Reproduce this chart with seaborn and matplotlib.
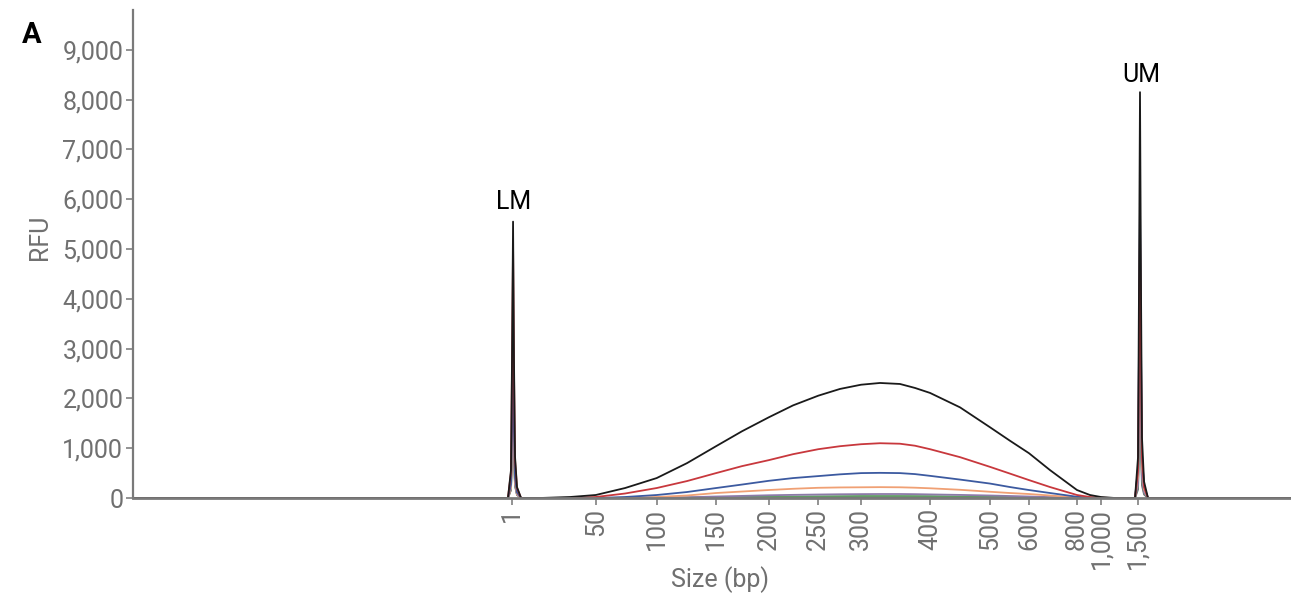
import numpy as np
import pandas as pd
import matplotlib
matplotlib.use("Agg")
import matplotlib.pyplot as plt
import seaborn as sns

# x axis is migration position (0-100); the ladder maps sizes onto it
ladder_sizes = [1, 50, 100, 150, 200, 250, 300, 400, 500, 600, 800, 1000, 1500]
ladder_pos = [32.73, 39.96, 45.22, 50.35, 54.90, 59.18, 62.87, 68.83, 74.01,
              77.37, 81.52, 83.59, 86.76]
ladder_labels = ["1", "50", "100", "150", "200", "250", "300", "400", "500",
                 "600", "800", "1,000", "1,500"]

# marker peaks (lower marker LM, upper marker UM)
lm_x = [32.38, 32.64, 32.73, 32.82, 32.90, 32.99, 33.16, 33.51]
um_x = [86.53, 86.79, 86.87, 86.96, 87.05, 87.13, 87.31, 87.65]

# library smear sampling positions
smear_x = [35.15, 37.74, 39.96, 42.49, 45.22, 47.84, 50.35, 52.59, 54.90, 57.00,
           59.18, 61.05, 62.87, 64.51, 66.23, 67.53, 68.83, 71.42, 74.01, 75.73,
           77.37, 79.19, 81.52, 82.64, 83.59, 84.80]

traces = ["gray", "green", "purple", "orange", "blue", "red", "black"]
colors = {"gray": "#6e6e6e", "green": "#5f9a63", "purple": "#8c7aa8",
          "orange": "#f0a074", "blue": "#3c5aa0", "red": "#c8383d",
          "black": "#1a1a1a"}

lm_rfu = {
    "black": [0, 560, 2780, 5550, 2780, 830, 220, 0],
    "red": [0, 510, 2550, 5100, 2550, 770, 200, 0],
    "blue": [0, 270, 1330, 2650, 1330, 400, 110, 0],
    "orange": [0, 200, 1000, 2000, 1000, 300, 80, 0],
    "purple": [0, 190, 930, 1850, 930, 280, 70, 0],
    "green": [0, 170, 850, 1700, 850, 260, 70, 0],
    "gray": [0, 160, 800, 1600, 800, 240, 60, 0],
}
um_rfu = {
    "black": [0, 820, 4080, 8150, 4080, 1220, 330, 0],
    "blue": [0, 600, 2980, 5950, 2980, 890, 240, 0],
    "red": [0, 550, 2750, 5500, 2750, 830, 220, 0],
    "orange": [0, 450, 2230, 4450, 2230, 670, 180, 0],
    "purple": [0, 270, 1350, 2700, 1350, 410, 110, 0],
    "green": [0, 250, 1250, 2500, 1250, 380, 100, 0],
    "gray": [0, 170, 830, 1650, 830, 250, 70, 0],
}
smear_rfu = {
    "black": [0, 20, 60, 200, 400, 700, 1040, 1340, 1620, 1860, 2055, 2190, 2275,
              2310, 2290, 2210, 2110, 1820, 1420, 1150, 900, 560, 160, 60, 20, 0],
    "red": [0, 0, 20, 90, 200, 340, 500, 640, 760, 880, 980, 1040, 1080, 1100,
            1090, 1050, 980, 820, 625, 490, 360, 220, 60, 20, 5, 0],
    "blue": [0, 0, 0, 20, 60, 120, 200, 270, 345, 400, 440, 475, 500, 505, 500,
             480, 445, 370, 290, 220, 160, 100, 25, 5, 0, 0],
    "orange": [0, 0, 0, 0, 20, 50, 100, 130, 160, 185, 205, 212, 215, 218, 215,
               207, 195, 165, 125, 100, 80, 50, 10, 0, 0, 0],
    "purple": [0, 0, 0, 0, 5, 15, 30, 42, 55, 63, 70, 75, 78, 80, 80, 77, 72, 62,
               50, 40, 30, 18, 5, 0, 0, 0],
    "green": [0, 0, 0, 0, 3, 8, 15, 20, 25, 30, 34, 37, 40, 40, 40, 39, 38, 30,
              25, 20, 15, 8, 2, 0, 0, 0],
    "gray": [0, 0, 0, 0, 1, 3, 5, 7, 9, 11, 13, 14, 15, 15, 15, 14, 13, 11, 9, 7,
             5, 3, 1, 0, 0, 0],
}

rows = []
for t in traces:
    xs = [0] + lm_x + smear_x + um_x + [100]
    ys = [0] + lm_rfu[t] + smear_rfu[t] + um_rfu[t] + [0]
    for x, y in zip(xs, ys):
        rows.append({"pos": x, "rfu": y, "trace": t})
df = pd.DataFrame(rows)

sns.set_theme(style="ticks")
plt.rcParams["font.family"] = ["Roboto", "DejaVu Sans"]

grey = "#707070"
fs = 18
fig = plt.figure(figsize=(12.91, 5.94), dpi=100)
ax = fig.add_axes([133 / 1291, 1 - 498 / 594, 1 - 133 / 1291, 488 / 594])

sns.lineplot(data=df, x="pos", y="rfu", hue="trace", hue_order=traces,
             palette=colors, sort=False, estimator=None, legend=False,
             linewidth=1.3, ax=ax, clip_on=False)

ax.set_xlim(0, 100)
ax.set_ylim(0, 9800)
ax.set_yticks(range(0, 9001, 1000))
ax.set_yticklabels([f"{v:,}" for v in range(0, 9001, 1000)])
ax.set_xticks(ladder_pos)
ax.set_xticklabels(ladder_labels, rotation=90)

for side in ["top", "right"]:
    ax.spines[side].set_visible(False)
for side in ["left", "bottom"]:
    ax.spines[side].set_color("#7a7a7a")
ax.spines["left"].set_linewidth(1.6)
ax.spines["bottom"].set_linewidth(2.0)
ax.tick_params(axis="both", colors="#808080", labelcolor=grey, labelsize=fs,
               length=5, width=1.2, pad=2)

ax.set_xlabel("Size (bp)", fontsize=fs, color=grey)
ax.xaxis.set_label_coords((720 - 133) / 1158, (498 - 580) / 488)
ax.xaxis.label.set_va("center")
ax.set_ylabel("RFU", fontsize=fs, color=grey)
ax.yaxis.set_label_coords((40 - 133) / 1158, (498 - 237) / 488)
ax.yaxis.label.set_va("center")

ax.text(32.9, 5940, "LM", fontsize=fs, color="black", ha="center", va="center")
ax.text(87.1, 8490, "UM", fontsize=fs, color="black", ha="center", va="center")
fig.text(22 / 1291, 1 - 35 / 594, "A", fontsize=21, fontweight="bold",
         color="black", ha="left", va="center")

fig.savefig("out.png", dpi=100)
